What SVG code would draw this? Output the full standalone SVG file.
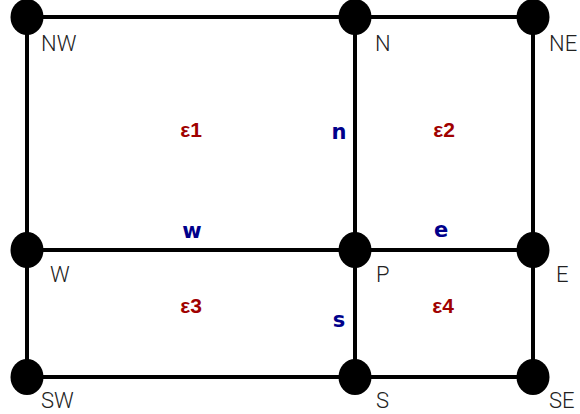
<svg xmlns="http://www.w3.org/2000/svg" width="580" height="414" viewBox="0 0 580 414">
<style>
.e{stroke:#000;stroke-width:4;fill:none}
.nd{fill:#000}
.lb{font-family:Roboto,"Liberation Sans",sans-serif;font-weight:300;font-size:22px;fill:#222}
.eps{font-family:"Liberation Sans",sans-serif;font-weight:bold;font-size:21px;fill:#a00000;text-anchor:middle}
.f{font-family:"DejaVu Sans",sans-serif;font-weight:bold;font-size:21px;fill:#00008b;text-anchor:middle}
</style>
<rect width="580" height="414" fill="#fff"/>
<g id="connectors">
<line class="e" x1="27" y1="17" x2="533" y2="17"/>
<line class="e" x1="27" y1="250" x2="533" y2="250"/>
<line class="e" x1="27" y1="377" x2="533" y2="377"/>
<line class="e" x1="27" y1="17" x2="27" y2="377"/>
<line class="e" x1="355" y1="17" x2="355" y2="377"/>
<line class="e" x1="533" y1="17" x2="533" y2="377"/>
</g>
<g id="NW"><ellipse class="nd" cx="27" cy="17" rx="16.5" ry="18"/><text class="lb" x="41" y="51">NW</text></g>
<g id="N"><ellipse class="nd" cx="355" cy="17" rx="16.5" ry="18"/><text class="lb" x="375" y="51">N</text></g>
<g id="NE"><ellipse class="nd" cx="533" cy="17" rx="16.5" ry="18"/><text class="lb" x="549" y="51">NE</text></g>
<g id="W"><ellipse class="nd" cx="27" cy="250" rx="16.5" ry="18"/><text class="lb" x="50" y="282">W</text></g>
<g id="P"><ellipse class="nd" cx="355" cy="250" rx="16.5" ry="18"/><text class="lb" x="376" y="282">P</text></g>
<g id="E"><ellipse class="nd" cx="533" cy="250" rx="16.5" ry="18"/><text class="lb" x="556" y="282">E</text></g>
<g id="SW"><ellipse class="nd" cx="27" cy="377" rx="16.5" ry="18"/><text class="lb" x="41" y="408">SW</text></g>
<g id="S"><ellipse class="nd" cx="355" cy="377" rx="16.5" ry="18"/><text class="lb" x="376" y="408">S</text></g>
<g id="SE"><ellipse class="nd" cx="533" cy="377" rx="16.5" ry="18"/><text class="lb" x="549" y="408">SE</text></g>
<g id="labels">
<text class="eps" x="191" y="137">ε1</text>
<text class="eps" x="444" y="137">ε2</text>
<text class="eps" x="191" y="313">ε3</text>
<text class="eps" x="443" y="313">ε4</text>
<text class="f" x="339" y="139">n</text>
<text class="f" x="192" y="238">w</text>
<text class="f" x="441" y="237">e</text>
<text class="f" x="339" y="327">s</text>
</g>
</svg>
